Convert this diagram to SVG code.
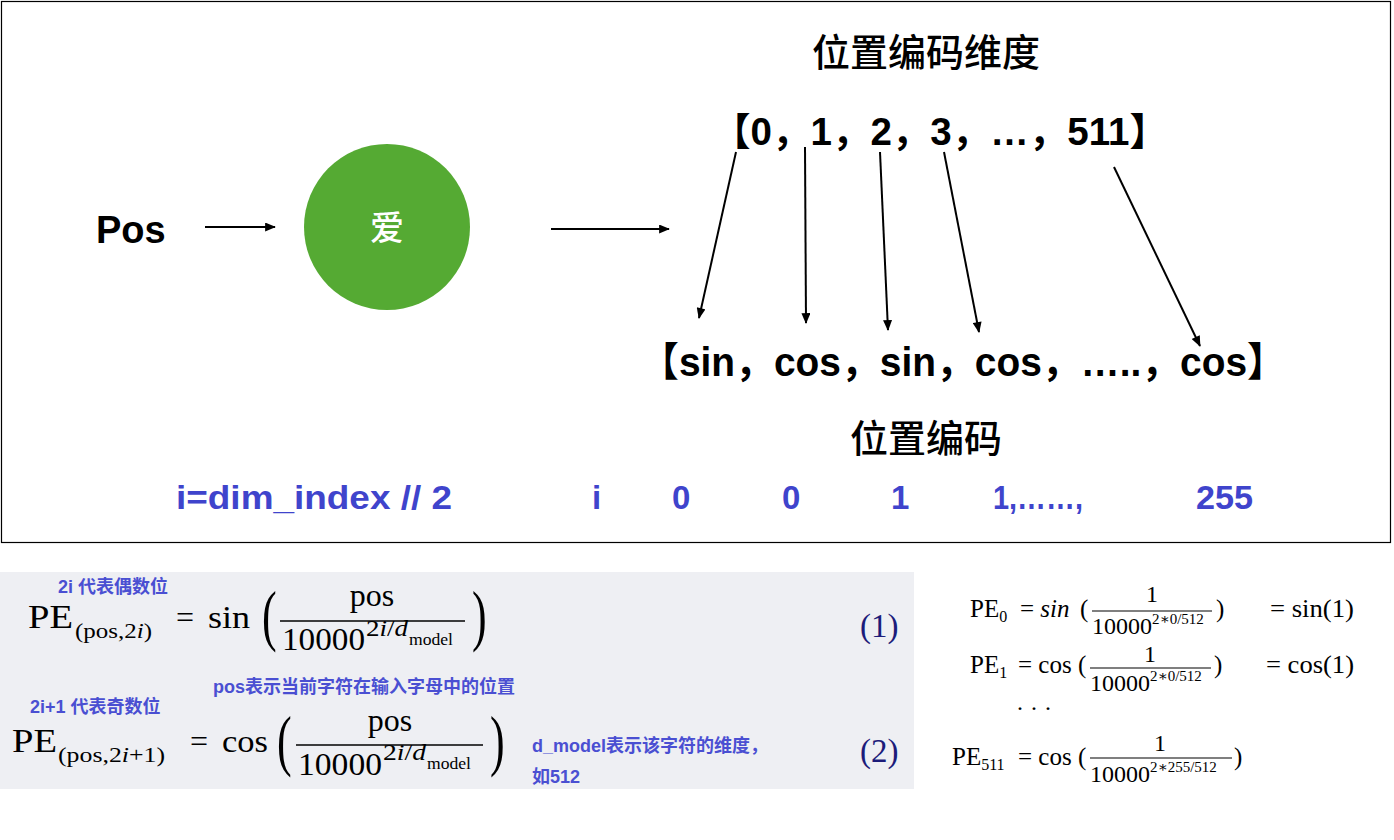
<svg xmlns="http://www.w3.org/2000/svg" width="1394" height="840" viewBox="0 0 1394 840">
<defs>
<marker id="ah" viewBox="0 0 12 10" refX="11" refY="5" markerWidth="12" markerHeight="9" markerUnits="userSpaceOnUse" orient="auto"><path d="M0,0 L12,5 L0,10 z" fill="#000"/></marker>
<style>
.bold{font-family:"Liberation Sans","Noto Sans CJK SC",sans-serif;font-weight:bold;fill:#000}
.cjk{font-family:"Noto Sans CJK SC",sans-serif;font-weight:500;fill:#000}
.blue{font-family:"Liberation Sans","Noto Sans CJK SC",sans-serif;font-weight:bold;fill:#3f44cc}
.note{font-family:"Liberation Sans","Noto Sans CJK SC",sans-serif;font-weight:bold;fill:#4a4fd2;font-size:18px}
.m{font-family:"Liberation Serif","DejaVu Serif",serif;fill:#000}
.it{font-style:italic}
.num{font-family:"Liberation Serif",serif;fill:#1c1c7a;font-size:33px}
.conn line{stroke:#000;stroke-width:2;marker-end:url(#ah)}
</style>
</defs>
<rect x="0" y="0" width="1394" height="840" fill="#fff"/>
<rect x="1.5" y="1.5" width="1389" height="541" fill="none" stroke="#000" stroke-width="1.2"/>

<g id="pos"><text class="bold" x="96" y="243" font-size="38">Pos</text></g>
<g id="ai"><circle cx="387" cy="227" r="83" fill="#55aa33"/><text class="cjk" x="387" y="240" font-size="34" style="fill:#fff" text-anchor="middle">爱</text></g>
<g id="dim-title"><text class="cjk" x="926" y="66" font-size="38" text-anchor="middle">位置编码维度</text></g>
<g id="dims"><text class="bold" x="712" y="145" font-size="38" textLength="456" lengthAdjust="spacingAndGlyphs">【0，1，2，3，…，511】</text></g>
<g id="pe-vec"><text class="bold" x="640" y="376" font-size="40" textLength="646" lengthAdjust="spacingAndGlyphs">【sin，cos，sin，cos，…..，cos】</text></g>
<g id="pe-title"><text class="cjk" x="926" y="452" font-size="38" text-anchor="middle">位置编码</text></g>

<g id="index-row">
<text class="blue" x="176" y="509" font-size="33" textLength="276" lengthAdjust="spacingAndGlyphs">i=dim_index // 2</text>
<text class="blue" x="592" y="509" font-size="33">i</text>
<text class="blue" x="672" y="509" font-size="33">0</text>
<text class="blue" x="782" y="509" font-size="33">0</text>
<text class="blue" x="891" y="509" font-size="33">1</text>
<text class="blue" x="993" y="509" font-size="33" textLength="90" lengthAdjust="spacingAndGlyphs">1,……,</text>
<text class="blue" x="1196" y="509" font-size="33" textLength="57" lengthAdjust="spacingAndGlyphs">255</text>
</g>

<g id="connectors" class="conn">
<line x1="205" y1="227" x2="275" y2="227"/>
<line x1="551" y1="229" x2="669" y2="229"/>
<line x1="736" y1="152" x2="699" y2="318"/>
<line x1="805" y1="147" x2="806" y2="323"/>
<line x1="880" y1="152" x2="888" y2="330"/>
<line x1="944" y1="152" x2="979" y2="332"/>
<line x1="1114" y1="167" x2="1200" y2="346"/>
</g>

<g id="formulas">
<rect x="0" y="572" width="914" height="217" fill="#eeeff3"/>
<text class="note" x="58" y="593">2i 代表偶数位</text>
<text class="m" x="28" y="628" font-size="34" textLength="45" lengthAdjust="spacingAndGlyphs">PE</text>
<text class="m" x="75" y="638" font-size="22" textLength="77" lengthAdjust="spacingAndGlyphs">(pos,2<tspan class="it">i</tspan>)</text>
<text class="m" x="176" y="628" font-size="32">=</text>
<text class="m" x="208" y="628" font-size="32" textLength="42" lengthAdjust="spacingAndGlyphs">sin</text>
<text class="m" transform="translate(262,638) scale(1,1.55)" font-size="44">(</text>
<text class="m" x="372" y="606" font-size="32" text-anchor="middle">pos</text>
<line x1="280" y1="621" x2="465" y2="621" stroke="#000" stroke-width="1.5"/>
<text class="m" x="282" y="650" font-size="32" textLength="83" lengthAdjust="spacingAndGlyphs">10000</text>
<text class="m" x="366" y="636" font-size="23" textLength="42" lengthAdjust="spacingAndGlyphs">2<tspan class="it">i</tspan>/<tspan class="it">d</tspan></text>
<text class="m" x="409" y="645" font-size="16" textLength="44" lengthAdjust="spacingAndGlyphs">model</text>
<text class="m" transform="translate(472,638) scale(1,1.55)" font-size="44">)</text>
<text class="num" x="860" y="637">(1)</text>

<text class="note" x="213" y="693">pos表示当前字符在输入字母中的位置</text>
<text class="note" x="30" y="713">2i+1 代表奇数位</text>
<text class="m" x="12" y="752" font-size="34" textLength="45" lengthAdjust="spacingAndGlyphs">PE</text>
<text class="m" x="58" y="762" font-size="22" textLength="107" lengthAdjust="spacingAndGlyphs">(pos,2<tspan class="it">i</tspan>+1)</text>
<text class="m" x="190" y="752" font-size="32">=</text>
<text class="m" x="222" y="752" font-size="32" textLength="46" lengthAdjust="spacingAndGlyphs">cos</text>
<text class="m" transform="translate(277,763) scale(1,1.55)" font-size="44">(</text>
<text class="m" x="390" y="731" font-size="32" text-anchor="middle">pos</text>
<line x1="296" y1="745" x2="483" y2="745" stroke="#000" stroke-width="1.5"/>
<text class="m" x="298" y="775" font-size="32" textLength="84" lengthAdjust="spacingAndGlyphs">10000</text>
<text class="m" x="383" y="760" font-size="23" textLength="43" lengthAdjust="spacingAndGlyphs">2<tspan class="it">i</tspan>/<tspan class="it">d</tspan></text>
<text class="m" x="427" y="769" font-size="16" textLength="44" lengthAdjust="spacingAndGlyphs">model</text>
<text class="m" transform="translate(490,763) scale(1,1.55)" font-size="44">)</text>
<text class="note" x="532" y="752">d_model表示该字符的维度，</text>
<text class="note" x="532" y="783">如512</text>
<text class="num" x="860" y="762">(2)</text>
</g>

<g id="examples">
<text class="m" x="970" y="617" font-size="25">PE<tspan font-size="16" dy="5">0</tspan></text>
<text class="m" x="1020" y="617" font-size="25">= <tspan class="it">sin</tspan></text>
<text class="m" x="1080" y="617" font-size="25">(</text>
<text class="m" x="1152" y="602" font-size="24" text-anchor="middle">1</text>
<line x1="1092" y1="611" x2="1212" y2="611" stroke="#000" stroke-width="1.2"/>
<text class="m" x="1092" y="634" font-size="24">10000<tspan font-size="15" dy="-10">2∗0/512</tspan></text>
<text class="m" x="1216" y="617" font-size="25">)</text>
<text class="m" x="1270" y="617" font-size="25" textLength="84" lengthAdjust="spacingAndGlyphs">= sin(1)</text>

<text class="m" x="970" y="673" font-size="25">PE<tspan font-size="16" dy="5">1</tspan></text>
<text class="m" x="1018" y="673" font-size="25">= cos</text>
<text class="m" x="1078" y="673" font-size="25">(</text>
<text class="m" x="1150" y="662" font-size="24" text-anchor="middle">1</text>
<line x1="1090" y1="668" x2="1211" y2="668" stroke="#000" stroke-width="1.2"/>
<text class="m" x="1090" y="691" font-size="24">10000<tspan font-size="15" dy="-10">2∗0/512</tspan></text>
<text class="m" x="1214" y="673" font-size="25">)</text>
<text class="m" x="1266" y="673" font-size="25" textLength="88" lengthAdjust="spacingAndGlyphs">= cos(1)</text>

<text class="m" x="1016" y="716" font-size="24">· · ·</text>

<text class="m" x="952" y="765" font-size="25">PE<tspan font-size="16" dy="5">511</tspan></text>
<text class="m" x="1018" y="765" font-size="25">= cos</text>
<text class="m" x="1078" y="765" font-size="25">(</text>
<text class="m" x="1160" y="751" font-size="24" text-anchor="middle">1</text>
<line x1="1090" y1="758" x2="1232" y2="758" stroke="#000" stroke-width="1.2"/>
<text class="m" x="1090" y="782" font-size="24">10000<tspan font-size="15" dy="-10">2∗255/512</tspan></text>
<text class="m" x="1234" y="765" font-size="25">)</text>
</g>
</svg>
